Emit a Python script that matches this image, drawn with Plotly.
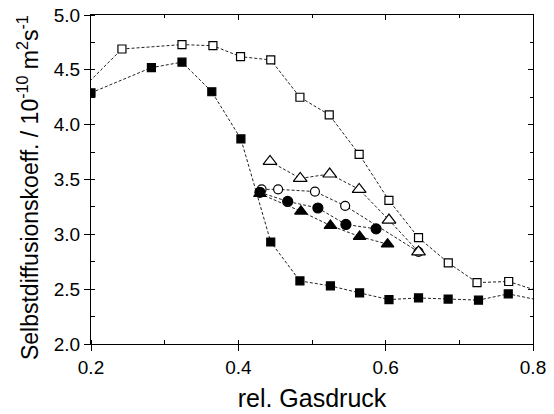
import plotly.graph_objects as go

# Data
open_sq_x = [0.16, 0.242, 0.3235, 0.3655, 0.403, 0.444, 0.4836, 0.5234, 0.564, 0.6044, 0.6446, 0.685, 0.724, 0.767, 0.845]
open_sq_y = [4.14, 4.69, 4.73, 4.72, 4.62, 4.59, 4.25, 4.09, 3.73, 3.31, 2.97, 2.74, 2.56, 2.57, 2.40]

fill_sq_x = [0.2, 0.282, 0.3235, 0.364, 0.4035, 0.444, 0.4836, 0.525, 0.5646, 0.6045, 0.6446, 0.6848, 0.726, 0.7664, 0.845]
fill_sq_y = [4.29, 4.52, 4.57, 4.30, 3.87, 2.93, 2.575, 2.53, 2.466, 2.405, 2.42, 2.41, 2.40, 2.457, 2.35]

open_tri_x = [0.443, 0.484, 0.524, 0.564, 0.6045, 0.6446]
open_tri_y = [3.665, 3.51, 3.55, 3.41, 3.13, 2.84]

open_circ_x = [0.4316, 0.454, 0.504, 0.545, 0.6446]
open_circ_y = [3.41, 3.41, 3.39, 3.26, 2.84]

fill_circ_x = [0.4293, 0.467, 0.508, 0.546, 0.587]
fill_circ_y = [3.383, 3.30, 3.24, 3.09, 3.05]

fill_tri_x = [0.4293, 0.485, 0.525, 0.5646, 0.6026]
fill_tri_y = [3.37, 3.21, 3.08, 2.98, 2.91]

x_ticks = [0.2, 0.4, 0.6, 0.8]
y_ticks = [2.0, 2.5, 3.0, 3.5, 4.0, 4.5, 5.0]

x_title = "rel. Gasdruck"
y_title = "Selbstdiffusionskoeff. / 10<sup>-10</sup> m<sup>2</sup>s<sup>-1</sup>"

FONT = "Liberation Sans, Arial, sans-serif"
LINE = dict(color="#222", width=1, dash="3px,2px")

fig = go.Figure()

def add(xs, ys, symbol, size, filled):
    fig.add_trace(go.Scatter(
        x=xs, y=ys, mode="lines+markers", line=LINE,
        marker=dict(symbol=symbol, size=size,
                    color="black" if filled else "white",
                    line=dict(color="black", width=1.2)),
        showlegend=False))

add(open_sq_x, open_sq_y, "square", 8, False)
add(fill_sq_x, fill_sq_y, "square", 8, True)
add(open_circ_x, open_circ_y, "circle", 9, False)
add(open_tri_x, open_tri_y, "triangle-up", 12, False)
add(fill_circ_x, fill_circ_y, "circle", 10, True)
add(fill_tri_x, fill_tri_y, "triangle-up", 11, True)

# invisible trace for mirrored (inner) top/right axes
fig.add_trace(go.Scatter(x=[0.5], y=[3.5], xaxis="x2", yaxis="y2",
                         mode="markers", marker=dict(opacity=0), showlegend=False,
                         hoverinfo="skip"))

axis_common = dict(showgrid=False, zeroline=False, showline=True, automargin=False,
                   linecolor="black", linewidth=1.3, tickcolor="black", tickwidth=1.2)

fig.update_layout(
    width=554, height=414,
    margin=dict(l=91, r=21, t=15, b=70, autoexpand=False),
    paper_bgcolor="white", plot_bgcolor="white",
    font=dict(family=FONT, color="black", size=19),
    xaxis=dict(range=[0.2, 0.8], tickvals=x_ticks, ticktext=[f"{v:.1f}" for v in x_ticks],
               ticks="outside", ticklen=6,
               minor=dict(dtick=0.1, ticks="inside", ticklen=4, tickcolor="black"),
               title=dict(text=x_title, font=dict(size=25), standoff=12),
               tickfont=dict(size=19), **axis_common),
    yaxis=dict(range=[2.0, 5.0], tickvals=y_ticks, ticktext=[f"{v:.1f}" for v in y_ticks],
               ticks="outside", ticklen=6,
               minor=dict(dtick=0.25, ticks="inside", ticklen=4, tickcolor="black"),
               tickfont=dict(size=19), **axis_common),
    xaxis2=dict(range=[0.2, 0.8], overlaying="x", side="top", anchor="y2",
                tickvals=x_ticks, ticks="inside", ticklen=5, showticklabels=False,
                minor=dict(dtick=0.1, ticks="inside", ticklen=3, tickcolor="black"),
                **axis_common),
    yaxis2=dict(range=[2.0, 5.0], overlaying="y", side="right", anchor="x2",
                tickvals=y_ticks, ticks="inside", ticklen=5, showticklabels=False,
                minor=dict(dtick=0.25, ticks="inside", ticklen=3, tickcolor="black"),
                **axis_common),
    annotations=[dict(text=y_title, textangle=-90, xref="paper", yref="paper",
                      x=-0.1425, y=0.474, xanchor="center", yanchor="middle",
                      showarrow=False, font=dict(size=23))],
)

fig.write_html("out.html", config={"displayModeBar": False},
               post_script="document.body.style.margin='0px';")
